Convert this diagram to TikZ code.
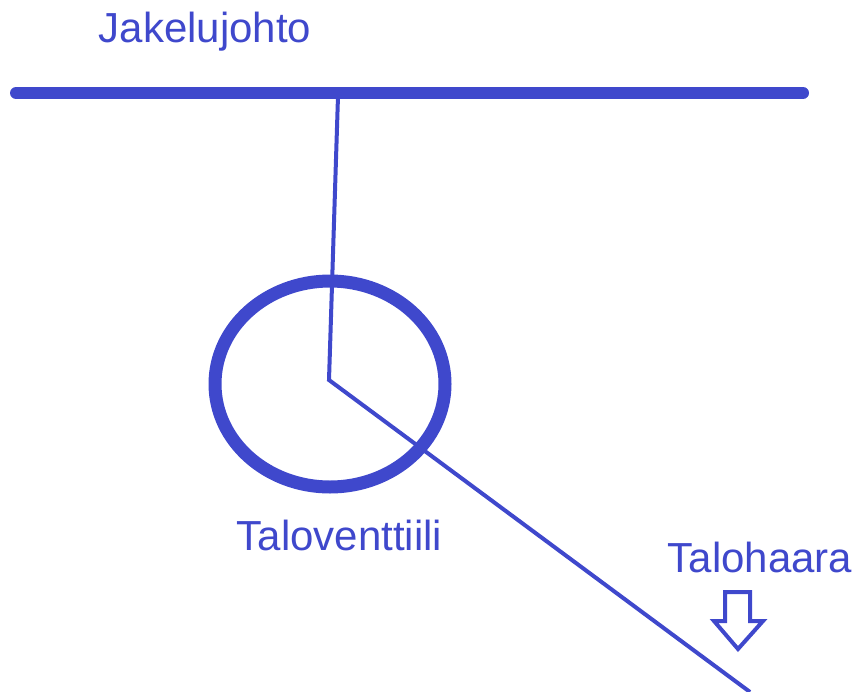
\documentclass[tikz,border=0pt]{standalone}
\usepackage{fontspec}
\setmainfont{Liberation Sans}
\usetikzlibrary{shapes.geometric}
\definecolor{paintblue}{RGB}{63,72,204}
\begin{document}
\begin{tikzpicture}[x=1pt,y=-1pt,
  lbl/.style={text=paintblue,font=\fontsize{42}{50}\selectfont,anchor=base,inner sep=0pt},
  pipe/.style={draw=paintblue,line width=4pt}]
\useasboundingbox (0,0) rectangle (856,691);
\coordinate (mainL) at (16,93);
\coordinate (mainR) at (803,93);
\coordinate (tee) at (338,96);
\coordinate (valve) at (329,380);
\coordinate (branchEnd) at (750,692);
\draw[paintblue,line width=12pt,line cap=round] (mainL) -- (mainR);
\draw[pipe] (tee) -- (valve) -- (branchEnd);
\node[draw=paintblue,line width=13pt,ellipse,minimum width=230pt,minimum height=206pt,inner sep=0pt] (ring) at (330,384) {};
\node[lbl] (jakelu) at (205,42) {Jakelujohto};
\node[lbl] (venttiili) at (339.5,550) {Taloventtiili};
\node[lbl] (haara) at (760,572) {Talohaara};
\draw[paintblue,line width=4pt,line join=miter] (725,592) -- (750,592) -- (750,621) -- (763,621) -- (738,649) -- (714,621) -- (725,621) -- cycle;
\end{tikzpicture}
\end{document}
